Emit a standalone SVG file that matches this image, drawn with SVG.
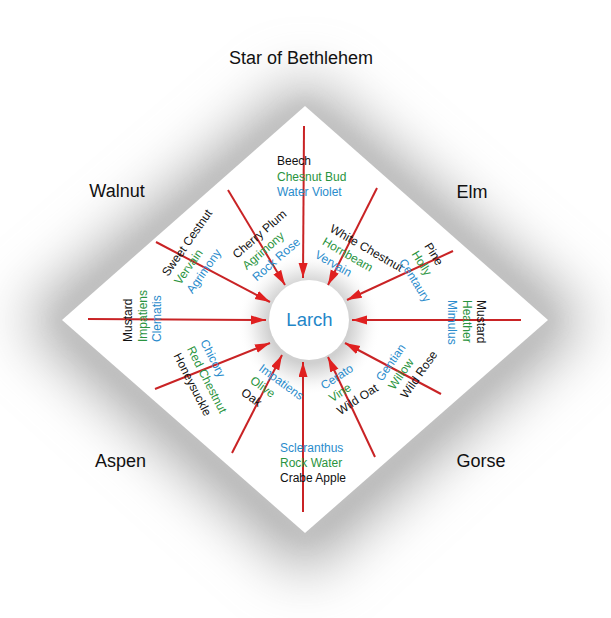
<svg xmlns="http://www.w3.org/2000/svg" width="611" height="618" viewBox="0 0 611 618">
<style>
text{font-family:"Liberation Sans",Arial,sans-serif;}
.s{font-size:12px;}
.k{fill:#111;}
.g{fill:#2a9440;}
.b{fill:#2a8ccc;}
.big{font-size:18px;fill:#111;text-anchor:middle;}
.arr{stroke:#c92325;stroke-width:2;fill:none;marker-end:url(#ah);}
</style>
<defs>
<marker id="ah" markerUnits="userSpaceOnUse" markerWidth="16" markerHeight="10" refX="15" refY="4.5" orient="auto">
<path d="M0,0 L15,4.5 L0,9 z" fill="#e02020"/>
</marker>
<filter id="blur" x="-40%" y="-40%" width="180%" height="180%"><feGaussianBlur stdDeviation="30"/></filter>
<filter id="blur2" x="-20%" y="-20%" width="140%" height="140%"><feGaussianBlur stdDeviation="8"/></filter>
<radialGradient id="cg" cx="0.5" cy="0.52" r="0.5">
<stop offset="0.55" stop-color="#d0d0d0"/>
<stop offset="0.75" stop-color="#ececec"/>
<stop offset="1" stop-color="#ffffff" stop-opacity="0"/>
</radialGradient>
</defs>
<rect width="611" height="618" fill="#fff"/>
<g id="shadow">
<polygon points="305,78 588,320 305,575 22,320" fill="#a8a8a8" filter="url(#blur)"/>
<polygon points="305,100 556,320 305,540 54,320" fill="#c4c4c4" filter="url(#blur2)"/>
</g>
<g id="diamond">
<polygon points="305,106 548,320 305,533 62,320" fill="#fff"/>
</g>
<g id="larch">
<circle cx="309" cy="321" r="72" fill="url(#cg)"/>
<circle cx="309" cy="320" r="40" fill="#fff"/>
<text x="309.5" y="326" style="font-size:18.5px;fill:#1f86c8;text-anchor:middle">Larch</text>
</g>
<g id="connectors">
<line class="arr" x1="304" y1="126" x2="303" y2="278"/>
<line class="arr" x1="228" y1="190" x2="285" y2="285"/>
<line class="arr" x1="156" y1="242" x2="270" y2="302"/>
<line class="arr" x1="88" y1="319" x2="266" y2="320"/>
<line class="arr" x1="155" y1="389" x2="270" y2="343"/>
<line class="arr" x1="232" y1="453" x2="282" y2="355"/>
<line class="arr" x1="303" y1="512" x2="303" y2="362"/>
<line class="arr" x1="375" y1="457" x2="328" y2="357"/>
<line class="arr" x1="441" y1="394" x2="345" y2="343"/>
<line class="arr" x1="521" y1="320" x2="352" y2="320"/>
<line class="arr" x1="453" y1="251" x2="347" y2="300"/>
<line class="arr" x1="377" y1="188" x2="328" y2="285"/>
</g>
<g id="star-of-bethlehem"><text class="big" x="301" y="64">Star of Bethlehem</text></g>
<g id="walnut"><text class="big" x="117" y="197">Walnut</text></g>
<g id="elm"><text class="big" x="472" y="198">Elm</text></g>
<g id="aspen"><text class="big" x="120.5" y="467">Aspen</text></g>
<g id="gorse"><text class="big" x="481" y="467">Gorse</text></g>
<g id="top-group" class="s">
<text class="k" x="277" y="165">Beech</text>
<text class="g" x="277" y="180.5">Chesnut Bud</text>
<text class="b" x="277" y="196">Water Violet</text>
</g>
<g id="bottom-group" class="s">
<text class="b" x="280" y="452">Scleranthus</text>
<text class="g" x="280" y="467">Rock Water</text>
<text class="k" x="280" y="482">Crabe Apple</text>
</g>
<g id="left-group" class="s" transform="translate(132,342) rotate(-90)">
<text class="k" x="0" y="0">Mustard</text>
<text class="g" x="0" y="14.5">Impatiens</text>
<text class="b" x="0" y="29">Clematis</text>
</g>
<g id="right-group" class="s" transform="translate(477,300) rotate(90)">
<text class="k" x="0" y="0">Mustard</text>
<text class="g" x="0" y="14.5">Heather</text>
<text class="b" x="0" y="29">Mimulus</text>
</g>
<g id="sweet-group" class="s" transform="translate(168,277) rotate(-55)">
<text class="k" x="0" y="0">Sweet Cestnut</text>
<text class="g" x="0" y="15">Vervain</text>
<text class="b" x="0" y="30">Agrimony</text>
</g>
<g id="cherry-group" class="s" transform="translate(237,259) rotate(-41)">
<text class="k" x="0" y="0">Cherry Plum</text>
<text class="g" x="0" y="15">Agrimony</text>
<text class="b" x="0" y="30">Rock Rose</text>
</g>
<g id="white-group" class="s" transform="translate(329,231) rotate(30)">
<text class="k" x="0" y="0">White Chestnut</text>
<text class="g" x="0" y="15">Hornbeam</text>
<text class="b" x="0" y="30">Vervain</text>
</g>
<g id="pine-group" class="s" transform="translate(424,246) rotate(58)">
<text class="k" x="0" y="0">Pine</text>
<text class="g" x="0" y="15">Holly</text>
<text class="b" x="0" y="30">Centaury</text>
</g>
<g id="chicory-group" class="s" transform="translate(200,342) rotate(63)">
<text class="b" x="0" y="0">Chicory</text>
<text class="g" x="0" y="15">Red Chestnut</text>
<text class="k" x="0" y="30">Honeysuckle</text>
</g>
<g id="impatiens-group" class="s" transform="translate(258,370) rotate(36)">
<text class="b" x="0" y="0">Impatiens</text>
<text class="g" x="0" y="15">Olive</text>
<text class="k" x="0" y="30">Oak</text>
</g>
<g id="cerato-group" class="s" transform="translate(324,390) rotate(-33)">
<text class="b" x="0" y="0">Cerato</text>
<text class="g" x="0" y="15">Vine</text>
<text class="k" x="0" y="30">Wild Oat</text>
</g>
<g id="gentian-group" class="s" transform="translate(382,382) rotate(-55)">
<text class="b" x="0" y="0">Gentian</text>
<text class="g" x="0" y="15">Willow</text>
<text class="k" x="0" y="30">Wild Rose</text>
</g>
</svg>
